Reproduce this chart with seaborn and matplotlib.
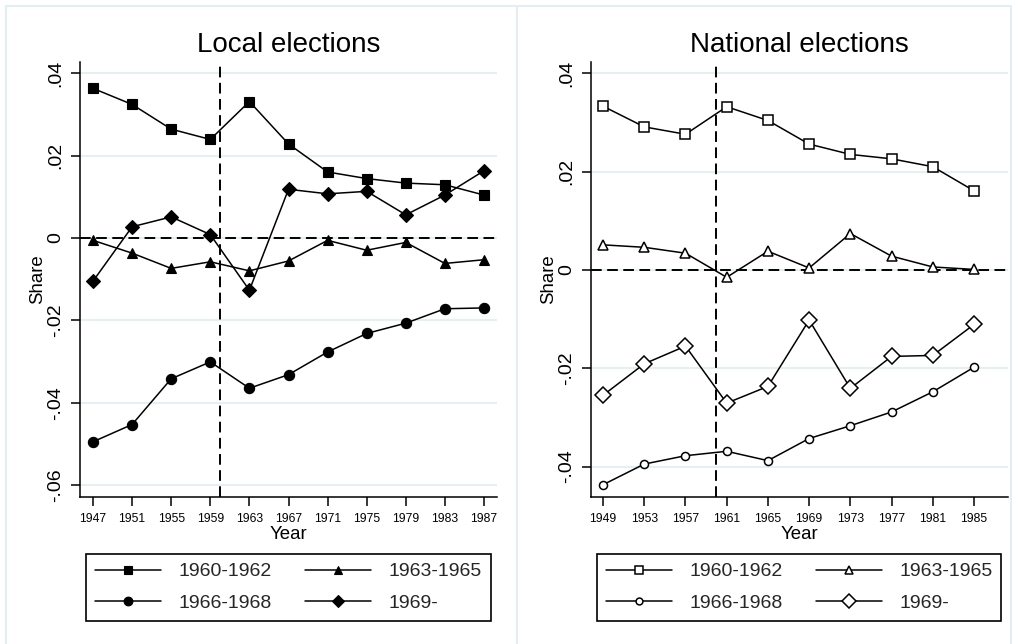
import numpy as np
import pandas as pd
import matplotlib
matplotlib.use("Agg")
import matplotlib.pyplot as plt
import seaborn as sns
from matplotlib.patches import Rectangle

# ---------------- data ----------------
series_labels = ["1960-1962", "1963-1965", "1966-1968", "1969-"]

local_years = [1947, 1951, 1955, 1959, 1963, 1967, 1971, 1975, 1979, 1983, 1987]
local_1960_1962 = [0.0363, 0.0324, 0.0264, 0.0239, 0.0331, 0.0228, 0.0160, 0.0144, 0.0133, 0.0129, 0.0104]
local_1963_1965 = [-0.0006, -0.0037, -0.0074, -0.0058, -0.0080, -0.0056, -0.0006, -0.0030, -0.0011, -0.0062, -0.0053]
local_1966_1968 = [-0.0495, -0.0453, -0.0342, -0.0301, -0.0365, -0.0332, -0.0277, -0.0232, -0.0207, -0.0172, -0.0170]
local_1969 = [-0.0105, 0.0027, 0.0051, 0.0008, -0.0127, 0.0118, 0.0107, 0.0113, 0.0056, 0.0104, 0.0163]

national_years = [1949, 1953, 1957, 1961, 1965, 1969, 1973, 1977, 1981, 1985]
national_1960_1962 = [0.0333, 0.0291, 0.0276, 0.0332, 0.0304, 0.0256, 0.0235, 0.0226, 0.0210, 0.0161]
national_1963_1965 = [0.0051, 0.0046, 0.0034, -0.0015, 0.0038, 0.0004, 0.0074, 0.0028, 0.0006, 0.0001]
national_1966_1968 = [-0.0437, -0.0395, -0.0378, -0.0369, -0.0388, -0.0343, -0.0317, -0.0289, -0.0248, -0.0198]
national_1969 = [-0.0255, -0.0191, -0.0155, -0.0271, -0.0237, -0.0102, -0.0241, -0.0176, -0.0174, -0.0111]

local_yticks = [-0.06, -0.04, -0.02, 0.0, 0.02, 0.04]
local_yticklabels = ["-.06", "-.04", "-.02", "0", ".02", ".04"]
national_yticks = [-0.04, -0.02, 0.0, 0.02, 0.04]
national_yticklabels = ["-.04", "-.02", "0", ".02", ".04"]

cutoff_year = 1960

# ---------------- style ----------------
sns.set_theme(style="white")
plt.rcParams['font.family'] = ['Liberation Sans', 'DejaVu Sans']

W, H = 1015, 644
fig = plt.figure(figsize=(W / 100, H / 100), dpi=100)


def fx(px):
    return px / W


def fy(py):
    return 1 - py / H


# panel borders (light graph-region frames)
border_col = "#e4edf2"
fig.patches.append(Rectangle((fx(6), fy(650)), fx(517) - fx(6), (650 - 6) / H,
                             transform=fig.transFigure, fill=False,
                             edgecolor=border_col, lw=1.5, zorder=0))
fig.patches.append(Rectangle((fx(517), fy(650)), fx(1011) - fx(517), (650 - 6) / H,
                             transform=fig.transFigure, fill=False,
                             edgecolor=border_col, lw=1.5, zorder=0))

ax1 = fig.add_axes([fx(80), fy(497), (497 - 80) / W, (497 - 62) / H])
ax2 = fig.add_axes([fx(591), fy(497), (1008 - 591) / W, (497 - 62) / H])

markers = ["s", "^", "o", "D"]
filled_sizes = [7.2, 7.2, 7.4, 7.2]
hollow_sizes = [6.6, 7.0, 5.8, 8.0]


def draw_panel(ax, years, series, filled, title, xticks, yticks, yticklabels, xlim, ylim):
    for vals, lab, mk, msf, msh in zip(series, series_labels, markers, filled_sizes, hollow_sizes):
        sns.lineplot(x=years, y=vals, ax=ax, color="black", lw=1.1,
                     marker=mk, markersize=msf if filled else msh,
                     markerfacecolor="black" if filled else "white",
                     markeredgecolor="black",
                     markeredgewidth=0.8 if filled else 1.1,
                     label=lab, zorder=3)
    ax.axhline(0, color="black", lw=1.4, dashes=(5.5, 2.8), zorder=2)
    ax.axvline(cutoff_year, color="black", lw=1.4, dashes=(5.5, 2.8), zorder=2)

    ax.set_xlim(*xlim)
    ax.set_ylim(*ylim)
    ax.set_xticks(xticks)
    ax.set_xticklabels([str(x) for x in xticks], fontsize=8.7)
    ax.set_yticks(yticks)
    ax.set_yticklabels(yticklabels, fontsize=14, rotation=90, va="center")

    ax.yaxis.grid(True, color="#e6eff2", lw=1.5)
    ax.xaxis.grid(False)
    ax.set_axisbelow(True)

    for s in ["top", "right"]:
        ax.spines[s].set_visible(False)
    for s in ["left", "bottom"]:
        ax.spines[s].set_color("black")
        ax.spines[s].set_linewidth(1.1)

    ax.tick_params(axis="both", which="major", bottom=True, left=True,
                   direction="out", length=6.5, width=1.1, color="black",
                   labelcolor="black")
    ax.tick_params(axis="x", pad=5)
    ax.tick_params(axis="y", pad=5)

    ax.set_xlabel("Year", fontsize=13.4, labelpad=1, color="black")
    ax.set_ylabel("Share", fontsize=13.4, labelpad=1, color="black")
    ax.set_title(title, fontsize=20, pad=7, color="black")

    handles, labels = ax.get_legend_handles_labels()
    if ax.get_legend() is not None:
        ax.get_legend().remove()
    order = [0, 2, 1, 3]
    return [handles[i] for i in order], [labels[i] for i in order]


h1, l1 = draw_panel(ax1, local_years,
                    [local_1960_1962, local_1963_1965, local_1966_1968, local_1969],
                    True, "Local elections", local_years,
                    local_yticks, local_yticklabels,
                    (1945.67, 1988.33), (-0.0629, 0.0427))

h2, l2 = draw_panel(ax2, national_years,
                    [national_1960_1962, national_1963_1965, national_1966_1968, national_1969],
                    False, "National elections", national_years,
                    national_yticks, national_yticklabels,
                    (1947.83, 1988.3), (-0.0462, 0.0423))


def make_legend(handles, labels, cx):
    leg = fig.legend(handles, labels, ncol=2, loc="center",
                     bbox_to_anchor=(fx(cx), fy(587.5)),
                     frameon=True, fancybox=False, shadow=False,
                     edgecolor="black", facecolor="white", framealpha=1,
                     fontsize=14, handlelength=3.4, handletextpad=0.9,
                     columnspacing=1.7, labelspacing=0.72, borderpad=0.45,
                     markerscale=0.85)
    leg.get_frame().set_linewidth(1.2)
    return leg


make_legend(h1, l1, 288.5)
make_legend(h2, l2, 799)

fig.savefig("out.png", dpi=100)
